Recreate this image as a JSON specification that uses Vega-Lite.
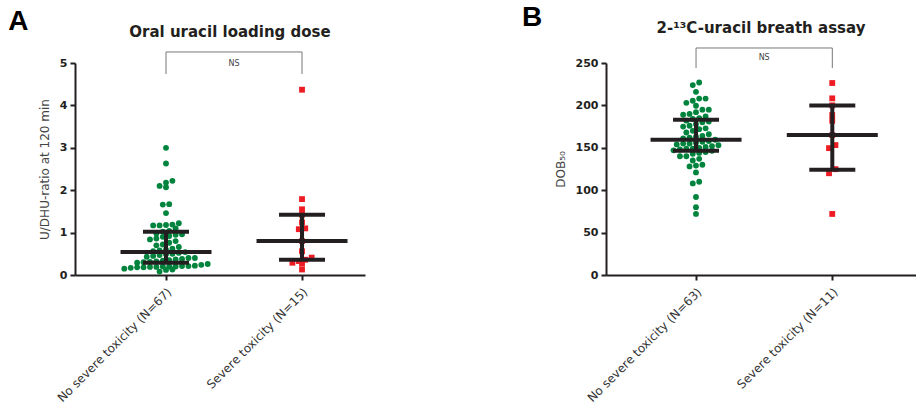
{
  "$schema": "https://vega.github.io/schema/vega-lite/v6.json",
  "background": "white",
  "padding": {"left": 8, "top": 3, "right": 0, "bottom": 0},
  "spacing": 157,
  "config": {
    "view": {"stroke": null},
    "font": "DejaVu Sans",
    "axis": {
      "grid": false,
      "domainColor": "#231f20",
      "domainWidth": 2,
      "tickColor": "#231f20",
      "tickWidth": 2,
      "tickSize": 5
    },
    "axisY": {
      "labelFontWeight": "bold",
      "labelFontSize": 11,
      "labelColor": "#231f20",
      "labelPadding": 3,
      "titleFontWeight": "normal",
      "titleFontSize": 12,
      "titleColor": "#444444",
      "titlePadding": 8
    },
    "axisX": {
      "labelAngle": -45,
      "labelFontSize": 12,
      "labelColor": "#333333",
      "labelPadding": 6,
      "title": null
    },
    "title": {"font": "DejaVu Sans"}
  },
  "datasets": {
    "a_points": [
      {"group": "No severe toxicity (N=67)", "value": 3.00},
      {"group": "No severe toxicity (N=67)", "value": 2.63},
      {"group": "No severe toxicity (N=67)", "value": 2.22},
      {"group": "No severe toxicity (N=67)", "value": 2.18},
      {"group": "No severe toxicity (N=67)", "value": 2.10},
      {"group": "No severe toxicity (N=67)", "value": 2.07},
      {"group": "No severe toxicity (N=67)", "value": 1.67},
      {"group": "No severe toxicity (N=67)", "value": 1.66},
      {"group": "No severe toxicity (N=67)", "value": 1.46},
      {"group": "No severe toxicity (N=67)", "value": 1.22},
      {"group": "No severe toxicity (N=67)", "value": 1.19},
      {"group": "No severe toxicity (N=67)", "value": 1.18},
      {"group": "No severe toxicity (N=67)", "value": 1.17},
      {"group": "No severe toxicity (N=67)", "value": 1.17},
      {"group": "No severe toxicity (N=67)", "value": 1.10},
      {"group": "No severe toxicity (N=67)", "value": 1.04},
      {"group": "No severe toxicity (N=67)", "value": 1.02},
      {"group": "No severe toxicity (N=67)", "value": 0.98},
      {"group": "No severe toxicity (N=67)", "value": 0.96},
      {"group": "No severe toxicity (N=67)", "value": 0.95},
      {"group": "No severe toxicity (N=67)", "value": 0.92},
      {"group": "No severe toxicity (N=67)", "value": 0.90},
      {"group": "No severe toxicity (N=67)", "value": 0.86},
      {"group": "No severe toxicity (N=67)", "value": 0.84},
      {"group": "No severe toxicity (N=67)", "value": 0.80},
      {"group": "No severe toxicity (N=67)", "value": 0.76},
      {"group": "No severe toxicity (N=67)", "value": 0.72},
      {"group": "No severe toxicity (N=67)", "value": 0.70},
      {"group": "No severe toxicity (N=67)", "value": 0.66},
      {"group": "No severe toxicity (N=67)", "value": 0.62},
      {"group": "No severe toxicity (N=67)", "value": 0.60},
      {"group": "No severe toxicity (N=67)", "value": 0.58},
      {"group": "No severe toxicity (N=67)", "value": 0.56},
      {"group": "No severe toxicity (N=67)", "value": 0.54},
      {"group": "No severe toxicity (N=67)", "value": 0.52},
      {"group": "No severe toxicity (N=67)", "value": 0.50},
      {"group": "No severe toxicity (N=67)", "value": 0.49},
      {"group": "No severe toxicity (N=67)", "value": 0.47},
      {"group": "No severe toxicity (N=67)", "value": 0.45},
      {"group": "No severe toxicity (N=67)", "value": 0.43},
      {"group": "No severe toxicity (N=67)", "value": 0.40},
      {"group": "No severe toxicity (N=67)", "value": 0.40},
      {"group": "No severe toxicity (N=67)", "value": 0.38},
      {"group": "No severe toxicity (N=67)", "value": 0.37},
      {"group": "No severe toxicity (N=67)", "value": 0.35},
      {"group": "No severe toxicity (N=67)", "value": 0.34},
      {"group": "No severe toxicity (N=67)", "value": 0.32},
      {"group": "No severe toxicity (N=67)", "value": 0.31},
      {"group": "No severe toxicity (N=67)", "value": 0.30},
      {"group": "No severe toxicity (N=67)", "value": 0.29},
      {"group": "No severe toxicity (N=67)", "value": 0.26},
      {"group": "No severe toxicity (N=67)", "value": 0.24},
      {"group": "No severe toxicity (N=67)", "value": 0.22},
      {"group": "No severe toxicity (N=67)", "value": 0.21},
      {"group": "No severe toxicity (N=67)", "value": 0.21},
      {"group": "No severe toxicity (N=67)", "value": 0.20},
      {"group": "No severe toxicity (N=67)", "value": 0.20},
      {"group": "No severe toxicity (N=67)", "value": 0.20},
      {"group": "No severe toxicity (N=67)", "value": 0.19},
      {"group": "No severe toxicity (N=67)", "value": 0.19},
      {"group": "No severe toxicity (N=67)", "value": 0.18},
      {"group": "No severe toxicity (N=67)", "value": 0.18},
      {"group": "No severe toxicity (N=67)", "value": 0.17},
      {"group": "No severe toxicity (N=67)", "value": 0.15},
      {"group": "No severe toxicity (N=67)", "value": 0.13},
      {"group": "No severe toxicity (N=67)", "value": 0.12},
      {"group": "No severe toxicity (N=67)", "value": 0.08},
      {"group": "Severe toxicity (N=15)", "value": 4.37},
      {"group": "Severe toxicity (N=15)", "value": 1.79},
      {"group": "Severe toxicity (N=15)", "value": 1.55},
      {"group": "Severe toxicity (N=15)", "value": 1.42},
      {"group": "Severe toxicity (N=15)", "value": 1.24},
      {"group": "Severe toxicity (N=15)", "value": 1.10},
      {"group": "Severe toxicity (N=15)", "value": 1.08},
      {"group": "Severe toxicity (N=15)", "value": 0.80},
      {"group": "Severe toxicity (N=15)", "value": 0.56},
      {"group": "Severe toxicity (N=15)", "value": 0.41},
      {"group": "Severe toxicity (N=15)", "value": 0.36},
      {"group": "Severe toxicity (N=15)", "value": 0.33},
      {"group": "Severe toxicity (N=15)", "value": 0.29},
      {"group": "Severe toxicity (N=15)", "value": 0.27},
      {"group": "Severe toxicity (N=15)", "value": 0.13}
    ],
    "a_summary": [
      {"group": "No severe toxicity (N=67)", "q1": 0.29, "median": 0.54, "q3": 1.02},
      {"group": "Severe toxicity (N=15)", "q1": 0.36, "median": 0.80, "q3": 1.42}
    ],
    "a_bracket": [
      {"group": "No severe toxicity (N=67)", "y": 4.74, "step": 1},
      {"group": "No severe toxicity (N=67)", "y": 5.26, "step": 2},
      {"group": "Severe toxicity (N=15)", "y": 5.26, "step": 3},
      {"group": "Severe toxicity (N=15)", "y": 4.74, "step": 4}
    ],
    "a_ns": [{"group": "mid", "y": 4.98, "label": "NS"}],
    "b_points": [
      {"group": "No severe toxicity (N=63)", "value": 227},
      {"group": "No severe toxicity (N=63)", "value": 224},
      {"group": "No severe toxicity (N=63)", "value": 216},
      {"group": "No severe toxicity (N=63)", "value": 208},
      {"group": "No severe toxicity (N=63)", "value": 208},
      {"group": "No severe toxicity (N=63)", "value": 205.5},
      {"group": "No severe toxicity (N=63)", "value": 203},
      {"group": "No severe toxicity (N=63)", "value": 199.6},
      {"group": "No severe toxicity (N=63)", "value": 195},
      {"group": "No severe toxicity (N=63)", "value": 195},
      {"group": "No severe toxicity (N=63)", "value": 192},
      {"group": "No severe toxicity (N=63)", "value": 190},
      {"group": "No severe toxicity (N=63)", "value": 189},
      {"group": "No severe toxicity (N=63)", "value": 187},
      {"group": "No severe toxicity (N=63)", "value": 185},
      {"group": "No severe toxicity (N=63)", "value": 184},
      {"group": "No severe toxicity (N=63)", "value": 182},
      {"group": "No severe toxicity (N=63)", "value": 181},
      {"group": "No severe toxicity (N=63)", "value": 180},
      {"group": "No severe toxicity (N=63)", "value": 178},
      {"group": "No severe toxicity (N=63)", "value": 176},
      {"group": "No severe toxicity (N=63)", "value": 175},
      {"group": "No severe toxicity (N=63)", "value": 173},
      {"group": "No severe toxicity (N=63)", "value": 172},
      {"group": "No severe toxicity (N=63)", "value": 170},
      {"group": "No severe toxicity (N=63)", "value": 168},
      {"group": "No severe toxicity (N=63)", "value": 166},
      {"group": "No severe toxicity (N=63)", "value": 164},
      {"group": "No severe toxicity (N=63)", "value": 163},
      {"group": "No severe toxicity (N=63)", "value": 162},
      {"group": "No severe toxicity (N=63)", "value": 161},
      {"group": "No severe toxicity (N=63)", "value": 159.5},
      {"group": "No severe toxicity (N=63)", "value": 158},
      {"group": "No severe toxicity (N=63)", "value": 157},
      {"group": "No severe toxicity (N=63)", "value": 156},
      {"group": "No severe toxicity (N=63)", "value": 155},
      {"group": "No severe toxicity (N=63)", "value": 155},
      {"group": "No severe toxicity (N=63)", "value": 154},
      {"group": "No severe toxicity (N=63)", "value": 153},
      {"group": "No severe toxicity (N=63)", "value": 152},
      {"group": "No severe toxicity (N=63)", "value": 151},
      {"group": "No severe toxicity (N=63)", "value": 150},
      {"group": "No severe toxicity (N=63)", "value": 149},
      {"group": "No severe toxicity (N=63)", "value": 149},
      {"group": "No severe toxicity (N=63)", "value": 148},
      {"group": "No severe toxicity (N=63)", "value": 147},
      {"group": "No severe toxicity (N=63)", "value": 146.5},
      {"group": "No severe toxicity (N=63)", "value": 145},
      {"group": "No severe toxicity (N=63)", "value": 144},
      {"group": "No severe toxicity (N=63)", "value": 143},
      {"group": "No severe toxicity (N=63)", "value": 140},
      {"group": "No severe toxicity (N=63)", "value": 140},
      {"group": "No severe toxicity (N=63)", "value": 137},
      {"group": "No severe toxicity (N=63)", "value": 135},
      {"group": "No severe toxicity (N=63)", "value": 130},
      {"group": "No severe toxicity (N=63)", "value": 129},
      {"group": "No severe toxicity (N=63)", "value": 128},
      {"group": "No severe toxicity (N=63)", "value": 121},
      {"group": "No severe toxicity (N=63)", "value": 110},
      {"group": "No severe toxicity (N=63)", "value": 108},
      {"group": "No severe toxicity (N=63)", "value": 92},
      {"group": "No severe toxicity (N=63)", "value": 80},
      {"group": "No severe toxicity (N=63)", "value": 72},
      {"group": "Severe toxicity (N=11)", "value": 226.4},
      {"group": "Severe toxicity (N=11)", "value": 208.3},
      {"group": "Severe toxicity (N=11)", "value": 200},
      {"group": "Severe toxicity (N=11)", "value": 188.6},
      {"group": "Severe toxicity (N=11)", "value": 181.9},
      {"group": "Severe toxicity (N=11)", "value": 165},
      {"group": "Severe toxicity (N=11)", "value": 153.2},
      {"group": "Severe toxicity (N=11)", "value": 149.6},
      {"group": "Severe toxicity (N=11)", "value": 124.8},
      {"group": "Severe toxicity (N=11)", "value": 120},
      {"group": "Severe toxicity (N=11)", "value": 72}
    ],
    "b_summary": [
      {"group": "No severe toxicity (N=63)", "q1": 146.4, "median": 159.4, "q3": 183},
      {"group": "Severe toxicity (N=11)", "q1": 124, "median": 165, "q3": 200}
    ],
    "b_bracket": [
      {"group": "No severe toxicity (N=63)", "y": 244, "step": 1},
      {"group": "No severe toxicity (N=63)", "y": 267.7, "step": 2},
      {"group": "Severe toxicity (N=11)", "y": 267.7, "step": 3},
      {"group": "Severe toxicity (N=11)", "y": 244, "step": 4}
    ],
    "b_ns": [{"group": "mid", "y": 256, "label": "NS"}]
  },
  "hconcat": [
    {
      "title": {"text": "A", "anchor": "start", "frame": "bounds", "font": "Liberation Sans", "fontSize": 28, "fontWeight": "bold", "color": "#000000", "dx": -30, "offset": -11},
      "vconcat": [
        {
          "width": 290,
          "height": 212,
          "title": {"text": "Oral uracil loading dose", "fontSize": 15, "fontWeight": "bold", "color": "#231f20", "anchor": "middle", "dx": 10, "offset": 10},
          "layer": [
            {
              "data": {"name": "a_points"},
              "transform": [
                {"bin": {"step": 0.14}, "field": "value", "as": "vbin"},
                {"window": [{"op": "row_number", "as": "r"}, {"op": "count", "as": "n"}], "groupby": ["group", "vbin"], "sort": [{"field": "value"}], "frame": [null, null]},
                {"calculate": "datum.r - (datum.n + 1) / 2", "as": "offset"}
              ],
              "mark": {"type": "point", "filled": true, "opacity": 1, "size": 34},
              "encoding": {
                "x": {"field": "group", "type": "nominal", "sort": null,
                  "scale": {"domain": ["No severe toxicity (N=67)", "mid", "Severe toxicity (N=15)"], "paddingInner": 0, "paddingOuter": 0.632, "align": 0.663},
                  "axis": {"values": ["No severe toxicity (N=67)", "Severe toxicity (N=15)"]}},
                "xOffset": {"field": "offset", "type": "quantitative", "scale": {"domain": [-5.3, 5.3]}},
                "y": {"field": "value", "type": "quantitative", "title": "U/DHU-ratio at 120 min",
                  "scale": {"domain": [0, 5], "nice": false}, "axis": {"values": [0, 1, 2, 3, 4, 5]}},
                "color": {"field": "group", "type": "nominal", "legend": null,
                  "scale": {"domain": ["No severe toxicity (N=67)", "Severe toxicity (N=15)"], "range": ["#00843d", "#ed1c24"]}},
                "shape": {"field": "group", "type": "nominal", "legend": null,
                  "scale": {"domain": ["No severe toxicity (N=67)", "Severe toxicity (N=15)"], "range": ["circle", "square"]}}
              }
            },
            {
              "data": {"name": "a_summary"},
              "mark": {"type": "rule", "strokeWidth": 4, "color": "#231f20"},
              "encoding": {
                "x": {"field": "group", "type": "nominal"},
                "y": {"field": "q1", "type": "quantitative", "title": "U/DHU-ratio at 120 min"},
                "y2": {"field": "q3"}
              }
            },
            {
              "data": {"name": "a_summary"},
              "mark": {"type": "tick", "size": 91, "thickness": 4, "color": "#231f20", "opacity": 1},
              "encoding": {
                "x": {"field": "group", "type": "nominal"},
                "y": {"field": "median", "type": "quantitative", "title": "U/DHU-ratio at 120 min"}
              }
            },
            {
              "data": {"name": "a_summary"},
              "mark": {"type": "tick", "size": 46, "thickness": 4, "color": "#231f20", "opacity": 1},
              "encoding": {
                "x": {"field": "group", "type": "nominal"},
                "y": {"field": "q1", "type": "quantitative", "title": "U/DHU-ratio at 120 min"}
              }
            },
            {
              "data": {"name": "a_summary"},
              "mark": {"type": "tick", "size": 46, "thickness": 4, "color": "#231f20", "opacity": 1},
              "encoding": {
                "x": {"field": "group", "type": "nominal"},
                "y": {"field": "q3", "type": "quantitative", "title": "U/DHU-ratio at 120 min"}
              }
            },
            {
              "data": {"name": "a_bracket"},
              "mark": {"type": "line", "color": "#777777", "strokeWidth": 1},
              "encoding": {
                "x": {"field": "group", "type": "nominal"},
                "y": {"field": "y", "type": "quantitative", "title": "U/DHU-ratio at 120 min"},
                "order": {"field": "step", "type": "quantitative"}
              }
            },
            {
              "data": {"name": "a_ns"},
              "mark": {"type": "text", "fontSize": 8, "color": "#444444", "baseline": "middle", "align": "center"},
              "encoding": {
                "x": {"field": "group", "type": "nominal"},
                "y": {"field": "y", "type": "quantitative", "title": "U/DHU-ratio at 120 min"},
                "text": {"field": "label"}
              }
            }
          ]
        }
      ]
    },
    {
      "title": {"text": "B", "anchor": "start", "frame": "bounds", "font": "Liberation Sans", "fontSize": 28, "fontWeight": "bold", "color": "#000000", "dx": -32, "offset": -11},
      "vconcat": [
        {
          "width": 310,
          "height": 212,
          "title": {"text": "2-¹³C-uracil breath assay", "fontSize": 15, "fontWeight": "bold", "color": "#231f20", "anchor": "middle", "dx": 0, "offset": 10},
          "layer": [
            {
              "data": {"name": "b_points"},
              "transform": [
                {"bin": {"step": 7}, "field": "value", "as": "vbin"},
                {"window": [{"op": "row_number", "as": "r"}, {"op": "count", "as": "n"}], "groupby": ["group", "vbin"], "sort": [{"field": "value"}], "frame": [null, null]},
                {"calculate": "datum.r - (datum.n + 1) / 2", "as": "offset"}
              ],
              "mark": {"type": "point", "filled": true, "opacity": 1, "size": 34},
              "encoding": {
                "x": {"field": "group", "type": "nominal", "sort": null,
                  "scale": {"domain": ["No severe toxicity (N=63)", "mid", "Severe toxicity (N=11)"], "paddingInner": 0, "paddingOuter": 0.775, "align": 0.53},
                  "axis": {"values": ["No severe toxicity (N=63)", "Severe toxicity (N=11)"]}},
                "xOffset": {"field": "offset", "type": "quantitative", "scale": {"domain": [-5.3, 5.3]}},
                "y": {"field": "value", "type": "quantitative", "title": "DOB₅₀",
                  "scale": {"domain": [0, 250], "nice": false}, "axis": {"values": [0, 50, 100, 150, 200, 250]}},
                "color": {"field": "group", "type": "nominal", "legend": null,
                  "scale": {"domain": ["No severe toxicity (N=63)", "Severe toxicity (N=11)"], "range": ["#00843d", "#ed1c24"]}},
                "shape": {"field": "group", "type": "nominal", "legend": null,
                  "scale": {"domain": ["No severe toxicity (N=63)", "Severe toxicity (N=11)"], "range": ["circle", "square"]}}
              }
            },
            {
              "data": {"name": "b_summary"},
              "mark": {"type": "rule", "strokeWidth": 4, "color": "#231f20"},
              "encoding": {
                "x": {"field": "group", "type": "nominal"},
                "y": {"field": "q1", "type": "quantitative", "title": "DOB₅₀"},
                "y2": {"field": "q3"}
              }
            },
            {
              "data": {"name": "b_summary"},
              "mark": {"type": "tick", "size": 91, "thickness": 4, "color": "#231f20", "opacity": 1},
              "encoding": {
                "x": {"field": "group", "type": "nominal"},
                "y": {"field": "median", "type": "quantitative", "title": "DOB₅₀"}
              }
            },
            {
              "data": {"name": "b_summary"},
              "mark": {"type": "tick", "size": 46, "thickness": 4, "color": "#231f20", "opacity": 1},
              "encoding": {
                "x": {"field": "group", "type": "nominal"},
                "y": {"field": "q1", "type": "quantitative", "title": "DOB₅₀"}
              }
            },
            {
              "data": {"name": "b_summary"},
              "mark": {"type": "tick", "size": 46, "thickness": 4, "color": "#231f20", "opacity": 1},
              "encoding": {
                "x": {"field": "group", "type": "nominal"},
                "y": {"field": "q3", "type": "quantitative", "title": "DOB₅₀"}
              }
            },
            {
              "data": {"name": "b_bracket"},
              "mark": {"type": "line", "color": "#777777", "strokeWidth": 1},
              "encoding": {
                "x": {"field": "group", "type": "nominal"},
                "y": {"field": "y", "type": "quantitative", "title": "DOB₅₀"},
                "order": {"field": "step", "type": "quantitative"}
              }
            },
            {
              "data": {"name": "b_ns"},
              "mark": {"type": "text", "fontSize": 8, "color": "#444444", "baseline": "middle", "align": "center"},
              "encoding": {
                "x": {"field": "group", "type": "nominal"},
                "y": {"field": "y", "type": "quantitative", "title": "DOB₅₀"},
                "text": {"field": "label"}
              }
            }
          ]
        }
      ]
    }
  ]
}
